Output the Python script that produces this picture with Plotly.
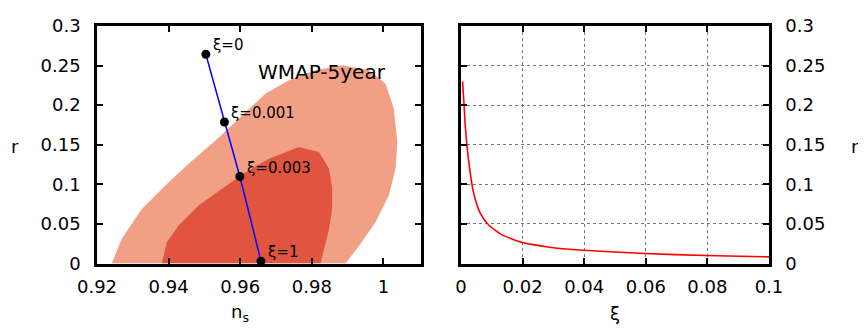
import plotly.graph_objects as go

# ---- data ----
outer_ns = [0.9241, 0.9269, 0.9325, 0.9391, 0.9456, 0.9531, 0.9596, 0.9671, 0.9736, 0.9810,
            0.9885, 0.9959, 1.0006, 1.0029, 1.0039, 1.0034, 1.0015, 0.9978, 0.9932, 0.9894]
outer_r = [0.0, 0.0310, 0.0690, 0.0985, 0.1259, 0.1554, 0.1829, 0.2146, 0.2314, 0.2441,
           0.2504, 0.2441, 0.2272, 0.1956, 0.1534, 0.1196, 0.0858, 0.0522, 0.0225, 0.0]

inner_ns = [0.9381, 0.9395, 0.9428, 0.9484, 0.9549, 0.9615, 0.9680, 0.9736, 0.9764, 0.9820,
            0.9848, 0.9857, 0.9857, 0.9848, 0.9834, 0.9824]
inner_r = [0.0, 0.0268, 0.0479, 0.0732, 0.0943, 0.1154, 0.1323, 0.1428, 0.1471, 0.1408,
           0.1196, 0.0943, 0.0690, 0.0437, 0.0184, 0.0]

pt_ns = [0.9504, 0.9556, 0.9599, 0.9658]
pt_r = [0.2643, 0.1787, 0.1099, 0.003]
pt_labels = ["ξ=0", "ξ=0.001", "ξ=0.003", "ξ=1"]

xi_curve = [0.0005, 0.00097, 0.0014, 0.00245, 0.0041, 0.0062, 0.0089, 0.0132, 0.0197,
            0.0288, 0.0398, 0.0597, 0.0794, 0.1]
r_curve = [0.230, 0.202, 0.173, 0.131, 0.089, 0.064, 0.049, 0.0365, 0.0268,
           0.0206, 0.0168, 0.0126, 0.0101, 0.0084]

left_xticks = [0.92, 0.94, 0.96, 0.98, 1.0]
left_xticklabels = ["0.92", "0.94", "0.96", "0.98", "1"]
right_xticks = [0, 0.02, 0.04, 0.06, 0.08, 0.1]
right_xticklabels = ["0", "0.02", "0.04", "0.06", "0.08", "0.1"]
yticks = [0, 0.05, 0.1, 0.15, 0.2, 0.25, 0.3]
yticklabels = ["0", "0.05", "0.1", "0.15", "0.2", "0.25", "0.3"]

FONT = "DejaVu Sans"
OUTER = "rgb(241,160,133)"
INNER = "rgb(224,84,64)"

# page has an 8px body margin; size the figure so it ends at the window edge
OFF = 8
W, H = 866 - OFF, 334 - OFF


def fx(px):
    return (px - OFF) / W


def fy(py):
    return 1 - (py - OFF) / H


fig = go.Figure()

fig.add_trace(go.Scatter(x=outer_ns, y=outer_r, mode="lines", fill="toself",
                         fillcolor=OUTER, line=dict(width=0, color=OUTER),
                         xaxis="x", yaxis="y", showlegend=False, hoverinfo="skip"))
fig.add_trace(go.Scatter(x=inner_ns, y=inner_r, mode="lines", fill="toself",
                         fillcolor=INNER, line=dict(width=0, color=INNER),
                         xaxis="x", yaxis="y", showlegend=False, hoverinfo="skip"))
fig.add_trace(go.Scatter(x=pt_ns, y=pt_r, mode="lines+markers",
                         line=dict(color="#0000ff", width=1.5),
                         marker=dict(color="black", size=9),
                         cliponaxis=False,
                         xaxis="x", yaxis="y", showlegend=False))
fig.add_trace(go.Scatter(x=xi_curve, y=r_curve, mode="lines",
                         line=dict(color="#ff0000", width=1.6, shape="spline", smoothing=0.6),
                         xaxis="x2", yaxis="y2", showlegend=False))

ann = []
for x, y, t in zip(pt_ns, pt_r, pt_labels):
    ann.append(dict(x=x, y=y, xref="x", yref="y", text=t, showarrow=False,
                    xanchor="left", yanchor="middle", xshift=5, yshift=9,
                    font=dict(family=FONT, size=15, color="black")))
ann.append(dict(x=0.9829, y=0.2425, xref="x", yref="y", text="WMAP-5year", showarrow=False,
                xanchor="center", yanchor="middle",
                font=dict(family=FONT, size=20, color="black")))
# axis titles
title_font = dict(family=FONT, size=18, color="black")
ann.append(dict(x=fx(15), y=fy(146), xref="paper", yref="paper", text="r", showarrow=False,
                xanchor="center", yanchor="middle", font=title_font))
ann.append(dict(x=fx(855), y=fy(146), xref="paper", yref="paper", text="r", showarrow=False,
                xanchor="center", yanchor="middle", font=title_font))
ann.append(dict(x=fx(240), y=fy(313), xref="paper", yref="paper", text="n<sub>s</sub>",
                showarrow=False, xanchor="center", yanchor="middle", font=title_font))
ann.append(dict(x=fx(615), y=fy(313), xref="paper", yref="paper", text="ξ",
                showarrow=False, xanchor="center", yanchor="middle", font=title_font))

axis_common = dict(showline=True, linecolor="black", linewidth=2.5, mirror="ticks",
                   ticks="inside", ticklen=6, tickwidth=2, tickcolor="black",
                   zeroline=False, automargin=False,
                   tickfont=dict(family=FONT, size=18, color="black"))

fig.update_layout(
    width=W, height=H,
    margin=dict(l=0, r=0, t=0, b=0, autoexpand=False),
    paper_bgcolor="white", plot_bgcolor="white",
    annotations=ann,
    xaxis=dict(domain=[fx(97), fx(421)], range=[0.92, 1.0105], anchor="y",
               tickvals=left_xticks, ticktext=left_xticklabels, showgrid=False,
               ticklabelstandoff=5, **axis_common),
    yaxis=dict(domain=[fy(263.5), fy(26)], range=[0, 0.3], anchor="x",
               tickvals=yticks, ticktext=yticklabels, showgrid=False,
               ticklabelstandoff=10, **axis_common),
    xaxis2=dict(domain=[fx(461), fx(769)], range=[0, 0.1], anchor="y2",
                tickvals=right_xticks, ticktext=right_xticklabels, showgrid=True,
                gridcolor="#777777", griddash="dot", gridwidth=1,
                ticklabelstandoff=5, **axis_common),
    yaxis2=dict(domain=[fy(263.5), fy(26)], range=[0, 0.3], anchor="x2", side="right",
                tickvals=yticks, ticktext=yticklabels, showgrid=True,
                gridcolor="#777777", griddash="dot", gridwidth=1,
                ticklabelstandoff=10, **axis_common),
)

fig.write_html("out.html")
